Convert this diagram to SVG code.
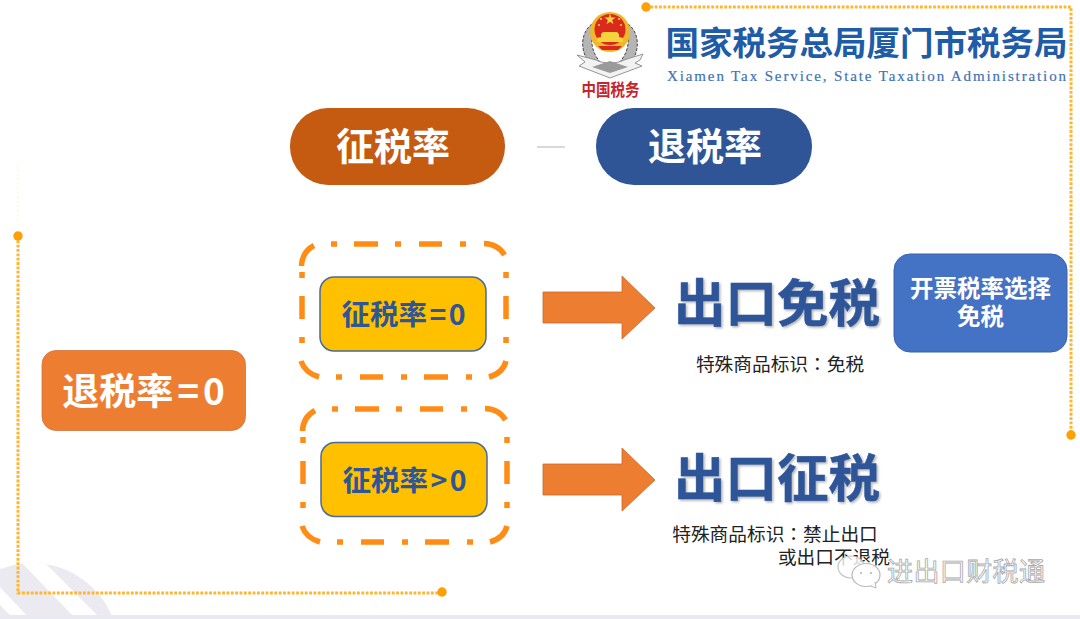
<svg xmlns="http://www.w3.org/2000/svg" width="1080" height="619" viewBox="0 0 1080 619">
<style>
text{font-family:"Noto Sans CJK SC","Liberation Sans",sans-serif;text-anchor:middle}
.b{font-weight:700}
.tc{font-family:"Noto Sans CJK TC",sans-serif}
.dot{fill:none;stroke:#FFB52E;stroke-width:3;stroke-dasharray:2.8 1.55}
.dash{fill:none;stroke:#FF8C14;stroke-width:5.5}
.yel{fill:#FFC000;stroke:#4A6A9C;stroke-width:1.5}
.yt{font-size:28.500px;font-weight:700;fill:#2F5597}
.arr{fill:#ED7D31;stroke:#C8682A;stroke-width:.8}
.big{font-size:51.500px;font-weight:700;fill:#2F5597;stroke:#2F5597;stroke-width:.5;filter:url(#sh)}
.note{font-size:18.700px;fill:#222}
.lg{fill:#FF9F00}
</style>
<defs>
<filter id="sh" x="-5%" y="-10%" width="110%" height="125%"><feDropShadow dx="1.500" dy="1.500" stdDeviation="1.200" flood-color="#000" flood-opacity=".3"/></filter>
<filter id="soft" x="-5%" y="-5%" width="110%" height="110%"><feGaussianBlur stdDeviation=".45"/></filter>
<clipPath id="cc"><circle cx="32" cy="650" r="87"/></clipPath>
<path id="dashbox" d="M331 244H337M354 244H378M395 244H401M419 244H442M460 244H466M484 243.500Q498 244 504.500 255M506 272V278M506 296V319M506 337V343M506 361Q503 373 489 377M472 377H466M448 377H424M407 377H401M383 377H360M342 377H336M319 377Q305 373 301 361M302 343V337M302 319V296M302 278V272M301.500 266Q302 252 314 245.500"/>
</defs>
<rect width="1080" height="619" fill="#fff"/>
<g id="corner" clip-path="url(#cc)"><rect x="-40" y="550" width="170" height="69" fill="#ECEAF1"/>
<path d="M20 561L76 619H101L43 561ZM-5 582L30 619H14L-5 600Z" fill="#fff"/></g>
<rect id="band" x="0" y="615" width="1080" height="4" fill="#E8E9F1"/>
<g id="frame">
<path class="dot" d="M18 236V593H442"/>
<path class="dot" d="M646 7H1071V435"/>
<path d="M18 165V225" fill="none" stroke="#FFF3D8" stroke-width="1.500" stroke-dasharray="1.500 3"/>
<circle class="lg" cx="18" cy="236" r="4.700"/><circle class="lg" cx="442" cy="592" r="4.700"/>
<circle class="lg" cx="646" cy="7" r="4.700"/><circle class="lg" cx="1071" cy="435" r="4.700"/>
</g>
<g id="logo">
<g id="emblem" filter="url(#soft)">
<path d="M592 24C581 32 579 50 590 64L602 64C590 52 589 36 597 25Z" fill="#B5B5B5" stroke="#444" stroke-width="1" stroke-dasharray="3 1.500"/>
<path d="M628 24C639 32 641 50 630 64L618 64C630 52 631 36 623 25Z" fill="#B5B5B5" stroke="#444" stroke-width="1" stroke-dasharray="3 1.500"/>
<path d="M577 55L596 60C603 64 617 64 624 60L643 54L640 60L635 63L642 66L610 78L579 66L585 62Z" fill="#F2F2F2" stroke="#8A8A8A" stroke-width=".9"/>
<path d="M592 67L610 73L628 67L610 61Z" fill="#9A9A9A"/>
<circle cx="610" cy="32" r="20" fill="#F0B72A"/>
<circle cx="610" cy="29.500" r="15.500" fill="#DA2A1E"/>
<path d="M610 13.500l1.400 4.100h4.300l-3.500 2.500 1.300 4.100-3.500-2.500-3.500 2.500 1.300-4.100-3.500-2.500h4.300z" fill="#F6D33C"/>
<circle cx="601" cy="19" r="1.100" fill="#F6D33C"/><circle cx="619" cy="19" r="1.100" fill="#F6D33C"/><circle cx="599" cy="25" r="1.100" fill="#F6D33C"/><circle cx="621" cy="25" r="1.100" fill="#F6D33C"/>
<path d="M597 42v-4l4-1v-3l2-2h14l2 2v3l4 1v4z" fill="#F6D33C"/>
<path d="M598 46H622L618 50H602Z" fill="#DA2A1E"/>
</g>
<text x="610.500" y="96" font-size="17" font-weight="700" fill="#C8242B" textLength="58" lengthAdjust="spacingAndGlyphs">中国税务</text>
<text x="866.500" y="55" font-size="33.500" font-weight="700" fill="#1F5CA8" textLength="402">国家税务总局厦门市税务局</text>
<text x="866.500" y="81" font-size="15" fill="#3F72B5" stroke="#3F72B5" stroke-width=".2" textLength="399" style="font-family:'Liberation Serif',serif">Xiamen Tax Service, State Taxation Administration</text>
</g>
<g id="connectors">
<path d="M537 147H565" stroke="#D9D9D9" stroke-width="2" fill="none"/>
<path id="arrow-1" class="arr" d="M543 292H622V276L655 308L622 339V323H543Z"/>
<path id="arrow-2" class="arr" d="M543 464H622V448L655 480L622 511V495H543Z"/>
</g>
<g id="pill-levy"><rect x="290" y="108" width="215" height="77" rx="38" fill="#C55A11"/><text class="b" x="393" y="160" font-size="38" fill="#fff">征税率</text></g>
<g id="pill-refund"><rect x="596" y="108" width="216" height="77" rx="38" fill="#2F5597"/><text class="b" x="705" y="160" font-size="38" fill="#fff">退税率</text></g>
<g id="refund-zero"><rect x="42" y="350.500" width="203.500" height="80" rx="14" fill="#ED7D31" stroke="#D2733A" stroke-width=".8"/><text class="b" x="143.500" y="405" font-size="37" fill="#fff">退税率<tspan dx="4">=</tspan><tspan dx="4">0</tspan></text></g>
<g id="levy-zero"><use href="#dashbox" class="dash"/><rect class="yel" x="320" y="277" width="166" height="74" rx="14"/><text class="yt" x="403.500" y="325">征税率<tspan dx="2.500">=</tspan><tspan dx="2.500">0</tspan></text></g>
<g id="levy-positive"><use href="#dashbox" class="dash" transform="translate(1 165)"/><rect class="yel" x="321" y="442.500" width="166" height="74" rx="14"/><text class="yt" x="404.500" y="491">征税率<tspan dx="2.500">&gt;</tspan><tspan dx="2.500">0</tspan></text></g>
<g id="export-free"><text class="big" x="777" y="322">出口免税</text><text class="note" x="780" y="371">特殊商品标识<tspan class="tc">：</tspan>免税</text></g>
<g id="export-tax"><text class="big" x="777" y="497">出口征税</text><text class="note" x="775" y="541">特殊商品标识<tspan class="tc">：</tspan>禁止出口</text><text class="note" x="834" y="564" fill="#111">或出口不退税</text></g>
<g id="invoice"><rect x="894" y="254" width="173" height="98" rx="16" fill="#4472C4" stroke="#3B62A8" stroke-width="1"/><text class="b" x="980.500" y="297" font-size="23.500" fill="#fff">开票税率选择</text><text class="b" x="980.500" y="325" font-size="23.500" fill="#fff">免税</text></g>
<g id="watermark">
<ellipse cx="851" cy="567" rx="13" ry="11" fill="#fff" fill-opacity=".8" stroke="#C4C4C4" stroke-width="1.200"/>
<ellipse cx="866" cy="575" rx="14" ry="11.500" fill="#fff" stroke="#B8B8B8" stroke-width="1.200"/>
<path d="M871 586l5 2-1-6" fill="#fff" stroke="#B8B8B8" stroke-width="1"/>
<circle cx="861" cy="573" r="1" fill="#B0B0B0"/><circle cx="871" cy="573" r="1" fill="#B0B0B0"/>
<text x="966" y="581" font-size="26" fill="#fff" stroke="#A8A8A8" stroke-width=".8" textLength="158">进出口财税通</text>
</g>
</svg>
